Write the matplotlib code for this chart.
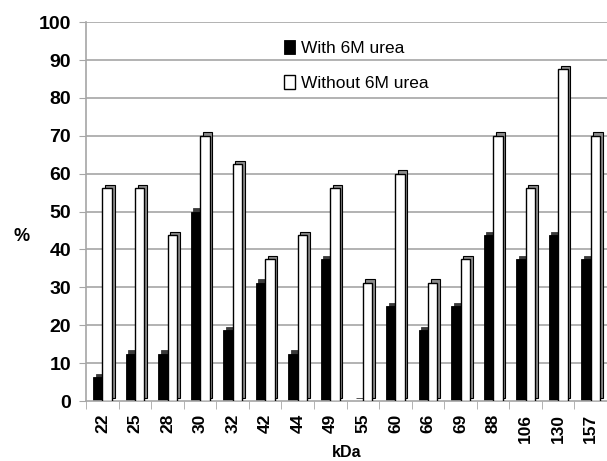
import numpy as np
import matplotlib
matplotlib.use("Agg")
import matplotlib.pyplot as plt

plt.rcParams['font.family'] = ['Liberation Sans', 'DejaVu Sans']

categories = ["22", "25", "28", "30", "32", "42", "44", "49",
              "55", "60", "66", "69", "88", "106", "130", "157"]
with_urea = [6.25, 12.5, 12.5, 50, 18.75, 31.25, 12.5, 37.5,
             0, 25, 18.75, 25, 43.75, 37.5, 43.75, 37.5]
without_urea = [56.25, 56.25, 43.75, 70, 62.5, 37.5, 43.75, 56.25,
                31.25, 60, 31.25, 37.5, 70, 56.25, 87.5, 70]

x = np.arange(len(categories))
w = 0.29
dx, dy = 0.08, 0.9

fig = plt.figure(figsize=(6.07, 4.61), dpi=100)
ax = fig.add_axes([0.142, 0.13, 0.858, 0.822])

for v in range(10, 101, 10):
    ax.axhline(v, color="#a6a6a6", lw=1.2, zorder=0)

# depth faces (fake 3D)
ax.bar(x - w / 2 + dx, with_urea, w, bottom=dy, color="#3a3a3a",
       edgecolor="#3a3a3a", lw=0.6, zorder=1)
ax.bar(x - w / 2, with_urea, w, color="black", edgecolor="black",
       lw=0.6, zorder=2, label="With 6M urea")
ax.bar(x + w / 2 + dx, without_urea, w, bottom=dy, color="#8c8c8c",
       edgecolor="black", lw=0.8, zorder=3)
ax.bar(x + w / 2, without_urea, w, color="white", edgecolor="black",
       lw=1.0, zorder=4, label="Without 6M urea")

ax.set_xlim(-0.5, len(categories) - 0.5)
ax.set_ylim(0, 100)
ax.set_yticks(range(0, 101, 10))
ax.set_xticks(x)
ax.set_xticklabels(categories, rotation=90, fontsize=12.5, fontweight="bold")
ax.set_xticks(np.arange(-0.5, len(categories), 1), minor=True)
ax.tick_params(axis="x", which="major", length=0, pad=9)
ax.tick_params(axis="x", which="minor", length=6, color="#a6a6a6")
ax.tick_params(axis="y", length=5, color="#a6a6a6", labelsize=14, pad=6)
for lab in ax.get_yticklabels():
    lab.set_fontweight("bold")

for s in ["top", "right"]:
    ax.spines[s].set_visible(False)
ax.spines["left"].set_color("#a6a6a6")
ax.spines["bottom"].set_color("#a6a6a6")
ax.spines["left"].set_linewidth(1.2)
ax.spines["bottom"].set_linewidth(1.2)

ax.set_xlabel("kDa", fontsize=11.5, fontweight="bold", labelpad=2)
ax.set_ylabel("%", fontsize=13, fontweight="bold", rotation=0, va="center")
ax.yaxis.set_label_coords(-0.125, 0.433)

ax.legend(loc="upper left", bbox_to_anchor=(0.35, 0.995), frameon=False,
          fontsize=12.5, labelspacing=1.1, handlelength=0.6, handleheight=0.9,
          handletextpad=0.4)

fig.savefig("out.png", dpi=100)
